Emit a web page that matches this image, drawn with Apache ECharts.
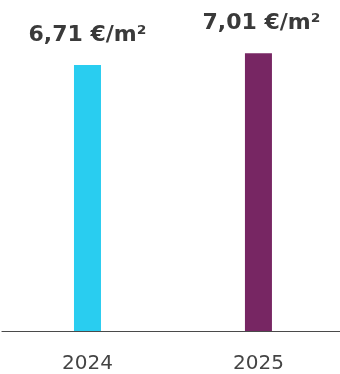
<!DOCTYPE html>
<html><head><meta charset="utf-8">
<script src="https://cdn.jsdelivr.net/npm/echarts@6/dist/echarts.min.js"></script>
<style>html,body{margin:0;padding:0;background:#fff}#c{width:340px;height:374px}</style>
</head><body><div id="c"></div>
<script>
const categories = ['2024', '2025'];
const values = [6.71, 7.01];
const labels = ['6,71 €/m²', '7,01 €/m²'];
const colors = ['#29CDF0', '#772663'];

const chart = echarts.init(document.getElementById('c'), null, {renderer: 'canvas'});
chart.setOption({
  animation: false,
  grid: {left: 2, right: 0, top: 14, bottom: 42.5, containLabel: false},
  xAxis: {
    type: 'value', min: -0.5, max: 1.477,
    splitLine: {show: false},
    axisLine: {lineStyle: {color: '#4a4a4a', width: 1.2}},
    axisTick: {show: false},
    axisLabel: {
      customValues: categories.map((c, i) => i),
      formatter: v => categories[Math.round(v)],
      color: '#444', fontSize: 20, fontFamily: 'DejaVu Sans', margin: 23
    }
  },
  yAxis: {type: 'value', min: 0, max: 8, show: false, splitLine: {show: false}},
  series: [{
    type: 'bar', barWidth: 27,
    data: values.map((v, i) => ({value: [i, v], itemStyle: {color: colors[i]}, label: {offset: [i === 1 ? 3 : 0, 0]}})),
    label: {
      show: true, position: 'top', distance: 19,
      formatter: p => labels[p.dataIndex],
      color: '#3a3a3a', fontSize: 22, fontWeight: 'bold', fontFamily: 'DejaVu Sans'
    }
  }]
});
</script></body></html>
